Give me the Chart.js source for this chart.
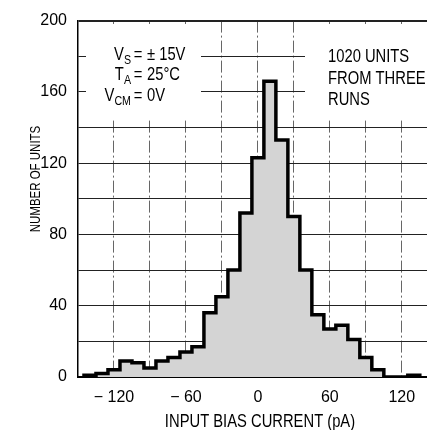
<!DOCTYPE html>
<html>
<head>
<meta charset="utf-8">
<script src="https://cdn.jsdelivr.net/npm/chart.js@4/dist/chart.umd.min.js"></script>
<style>
  html, body { margin: 0; padding: 0; background: #fff; }
  #wrap { width: 427px; height: 430px; }
</style>
</head>
<body>
<div id="wrap"><canvas id="hist" width="427" height="430"></canvas></div>
<script>
// histogram bins, 10 pA wide
const binCenters = [-140, -130, -120, -110, -100, -90, -80, -70, -60, -50,
                    -40, -30, -20, -10, 0, 10, 20, 30, 40, 50,
                    60, 70, 80, 90, 100, 110, 120, 130];
const unitCounts = [1, 2, 4, 9, 8, 5, 9, 11, 14, 17,
                    36, 45, 60, 92, 123, 166, 133, 90, 60, 35,
                    27, 29, 21, 11, 4, 0, 0, 1];
const binWidth = 10;

const xGridTicks = [-120, -90, -60, -30, 0, 30, 60, 90, 120];
const xTickLabels = { '-120': '\u2212 120', '-60': '\u2212 60', '0': '0', '60': '60', '120': '120' };
const yTickLabels = [0, 40, 80, 120, 160, 200];

const conditions = [
  { name: 'V', sub: 'S', value: '\u00b1 15V' },
  { name: 'T', sub: 'A', value: '25\u00b0C' },
  { name: 'V', sub: 'CM', value: '0V' }
];
const noteLines = ['1020 UNITS', 'FROM THREE', 'RUNS'];

const FONT = '"Liberation Sans", Arial, sans-serif';
const SQUEEZE = 0.82; // datasheet font is a condensed grotesque

// stepped outline: one point per left bin edge, value held to the next edge
const outline = [{ x: binCenters[0] - binWidth / 2, y: 0 }];
binCenters.forEach((c, i) => outline.push({ x: c - binWidth / 2, y: unitCounts[i] }));
outline.push({ x: binCenters[binCenters.length - 1] + binWidth / 2, y: 0 });

function narrowText(ctx, text, x, y, align, size) {
  ctx.save();
  ctx.translate(x, y);
  ctx.scale(SQUEEZE, 1);
  ctx.font = size + 'px ' + FONT;
  ctx.textAlign = align;
  ctx.textBaseline = 'alphabetic';
  ctx.fillText(text, 0, 0);
  ctx.restore();
}

function narrowWidth(ctx, text, size) {
  ctx.save();
  ctx.font = size + 'px ' + FONT;
  const w = ctx.measureText(text).width * SQUEEZE;
  ctx.restore();
  return w;
}

const textPlugin = {
  id: 'notes',
  afterDraw(chart) {
    const ctx = chart.ctx;
    ctx.save();
    // white patches behind the notes hide the grid
    ctx.fillStyle = '#fff';
    ctx.fillRect(86, 24, 115, 94);
    ctx.fillRect(305, 24, 122, 94);

    ctx.fillStyle = '#000';
    const baselines = [60, 80, 101];
    conditions.forEach((c, i) => {
      const y = baselines[i];
      const subW = narrowWidth(ctx, c.sub, 13);
      narrowText(ctx, c.sub, 131, y + 4, 'right', 13);
      narrowText(ctx, c.name, 131 - subW, y, 'right', 18);
      narrowText(ctx, '=', 138, y, 'center', 18);
      narrowText(ctx, c.value, 147, y, 'left', 18);
    });

    [62, 83.5, 105].forEach((y, i) => narrowText(ctx, noteLines[i], 328, y, 'left', 18));

    // axis titles
    narrowText(ctx, 'INPUT BIAS CURRENT (pA)', 260, 427, 'center', 18);
    ctx.save();
    ctx.translate(40, 179);
    ctx.rotate(-Math.PI / 2);
    narrowText(ctx, 'NUMBER OF UNITS', 0, 0, 'center', 14);
    ctx.restore();
    ctx.restore();
  }
};

new Chart(document.getElementById('hist').getContext('2d'), {
  type: 'line',
  data: {
    datasets: [{
      data: outline,
      stepped: 'before',
      borderColor: '#000',
      borderWidth: 3.5,
      borderJoinStyle: 'miter',
      backgroundColor: '#d4d4d4',
      fill: 'origin',
      pointRadius: 0
    }]
  },
  options: {
    responsive: false,
    animation: false,
    layout: { padding: { top: 19, right: 0, bottom: 0, left: 0 } },
    plugins: { legend: { display: false }, tooltip: { enabled: false } },
    scales: {
      x: {
        type: 'linear',
        min: -150,
        max: 141,
        z: 1,
        afterBuildTicks: (s) => { s.ticks = xGridTicks.map(v => ({ value: v })); },
        afterFit: (s) => { s.height = 53; },
        ticks: {
          autoSkip: false,
          maxRotation: 0,
          padding: 11,
          color: '#000',
          font: { family: FONT, size: 16 },
          callback: (v) => xTickLabels[v] ?? ''
        },
        grid: { drawTicks: false, color: '#666', lineWidth: 1 },
        border: { display: true, color: '#000', width: 2, dash: [12, 3, 2, 3] }
      },
      y: {
        min: 0,
        max: 200,
        z: 1,
        afterFit: (s) => { s.width = 78; },
        ticks: {
          stepSize: 20,
          padding: 11,
          color: '#000',
          font: { family: FONT, size: 16 },
          callback: (v) => yTickLabels.includes(v) ? v : ''
        },
        grid: {
          drawTicks: false,
          color: '#222',
          lineWidth: (c) => (c.tick && c.tick.value === 200 ? 2 : 1)
        },
        border: { display: true, color: '#000', width: 1.5 }
      }
    }
  },
  plugins: [textPlugin]
});
</script>
</body>
</html>
